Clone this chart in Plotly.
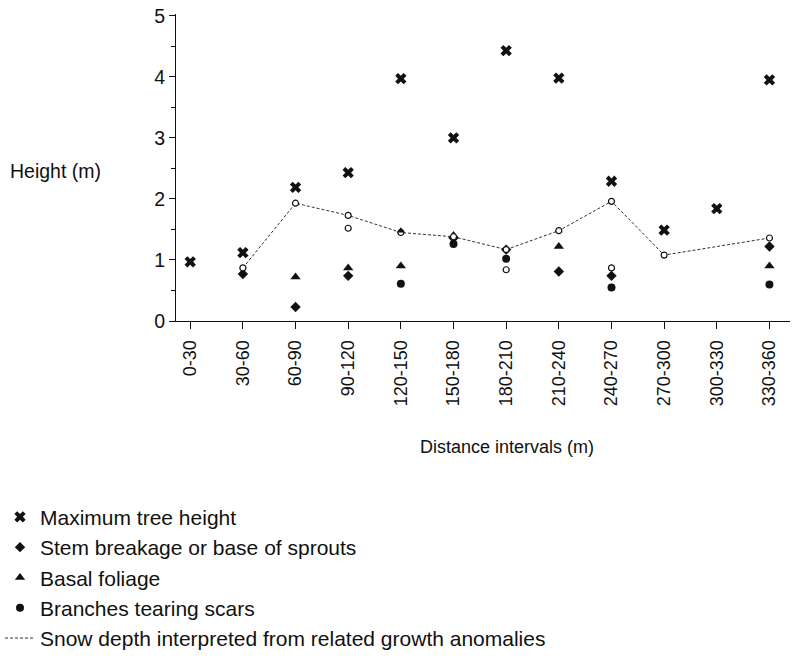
import plotly.graph_objects as go

# Distance intervals along the transect (m)
intervals = ["0-30", "30-60", "60-90", "90-120", "120-150", "150-180",
             "180-210", "210-240", "240-270", "270-300", "300-330", "330-360"]

# Heights (m) per interval; None where nothing was recorded
max_tree_height = [0.97, 1.12, 2.19, 2.43, 3.97, 3.00, 4.43, 3.98, 2.29, 1.49, 1.84, 3.95]
stem_breakage = [None, 0.77, 0.23, 0.74, None, 1.36, 1.17, 0.81, 0.74, None, None, 1.22]
basal_foliage = [None, None, 0.72, 0.87, 0.90, 1.40, None, 1.22, None, None, None, 0.90]
basal_foliage_upper = [None, None, None, None, 1.48, None, None, None, None, None, None, None]
branch_scars = [None, None, None, None, 0.61, 1.26, 1.02, None, 0.55, None, None, 0.60]
snow_depth = [None, 0.87, 1.93, 1.73, 1.45, 1.38, 1.17, 1.48, 1.96, 1.08, None, 1.36]
other_marks = [None, None, None, 1.52, None, None, 0.84, None, 0.87, None, None, None]

y_ticks = [0, 1, 2, 3, 4, 5]

xpos = list(range(len(intervals)))
FONT = "Liberation Sans, Arial, sans-serif"
INK = "#111111"

fig = go.Figure()

fig.add_trace(go.Scatter(
    x=xpos, y=max_tree_height, mode="markers", name="Maximum tree height",
    marker=dict(symbol="x", size=10, color=INK, line=dict(width=0))))
fig.add_trace(go.Scatter(
    x=xpos, y=stem_breakage, mode="markers", name="Stem breakage or base of sprouts",
    marker=dict(symbol="diamond", size=8, color=INK, line=dict(width=0))))
fig.add_trace(go.Scatter(
    x=xpos, y=basal_foliage, mode="markers", name="Basal foliage",
    marker=dict(symbol="triangle-up", size=9, color=INK, line=dict(width=0))))
fig.add_trace(go.Scatter(
    x=xpos, y=branch_scars, mode="markers", name="Branches tearing scars",
    marker=dict(symbol="circle", size=8, color=INK, line=dict(width=0))))
fig.add_trace(go.Scatter(
    x=xpos, y=snow_depth, mode="lines", connectgaps=True,
    name="Snow depth interpreted from related growth anomalies",
    line=dict(color="#333333", width=1, dash="3px,2px")))
fig.add_trace(go.Scatter(
    x=xpos, y=snow_depth, mode="markers", showlegend=False,
    marker=dict(symbol="circle", size=6, color="white", line=dict(color=INK, width=1.2))))
fig.add_trace(go.Scatter(
    x=xpos, y=basal_foliage_upper, mode="markers", showlegend=False,
    marker=dict(symbol="triangle-up", size=7, color=INK, line=dict(width=0))))
fig.add_trace(go.Scatter(
    x=xpos, y=other_marks, mode="markers", showlegend=False,
    marker=dict(symbol="circle", size=6, color="white", line=dict(color=INK, width=1.2))))

fig.update_layout(
    width=797, height=662,
    margin=dict(l=176, r=7, t=14, b=341, pad=0, autoexpand=False),
    plot_bgcolor="white", paper_bgcolor="white",
    font=dict(family=FONT, size=17, color=INK),
    showlegend=True,
    legend=dict(
        xref="container", yref="container",
        x=0, y=0.005, xanchor="left", yanchor="bottom",
        traceorder="normal",
        font=dict(family=FONT, size=21, color=INK),
        bgcolor="rgba(0,0,0,0)", itemwidth=30),
    xaxis=dict(
        range=[-0.27, 11.39], tickmode="array", tickvals=xpos, ticktext=intervals,
        tickangle=-90, ticks="outside", ticklen=7, tickwidth=1, tickcolor=INK,
        ticklabelstandoff=4, automargin=False,
        showline=True, linecolor=INK, linewidth=1, showgrid=False, zeroline=False,
        tickfont=dict(family=FONT, size=18, color=INK)),
    yaxis=dict(
        range=[0, 5.03], tickmode="array", tickvals=y_ticks,
        ticks="outside", ticklen=6, tickwidth=1, tickcolor=INK,
        ticklabelstandoff=0, automargin=False,
        minor=dict(dtick=0.5, ticks="outside", ticklen=4, tickcolor=INK),
        showline=True, linecolor=INK, linewidth=1, showgrid=False, zeroline=False,
        tickfont=dict(family=FONT, size=19.5, color=INK)),
    annotations=[
        dict(text="Height (m)", xref="paper", yref="paper", x=-0.2736, y=0.49,
             xanchor="left", yanchor="middle", showarrow=False,
             font=dict(family=FONT, size=19.5, color=INK)),
        dict(text="Distance intervals (m)", xref="paper", yref="paper", x=0.539, y=-0.41,
             xanchor="center", yanchor="middle", showarrow=False,
             font=dict(family=FONT, size=18, color=INK)),
    ],
)

fig.write_html("out.html")
